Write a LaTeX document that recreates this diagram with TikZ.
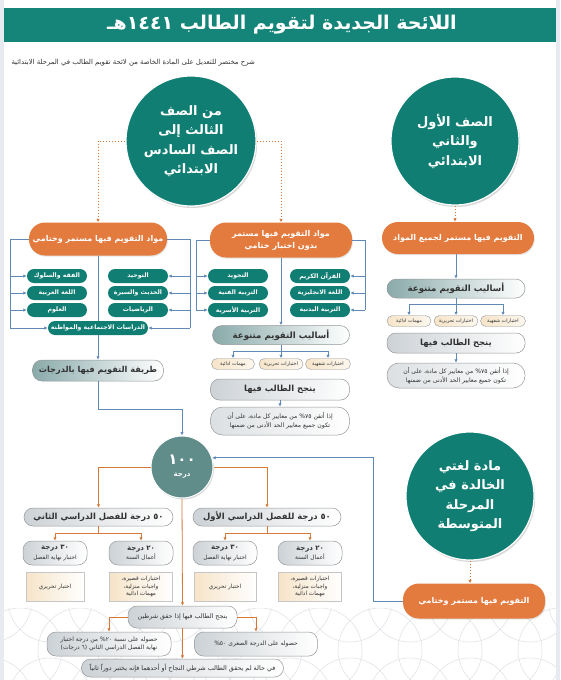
\documentclass[tikz,border=0pt]{standalone}
\usepackage{fontspec}
\newfontfamily\arabicfont[Script=Arabic]{DejaVu Sans}
\TeXXeTstate=1
\usetikzlibrary{arrows.meta,shadows}
\newcommand{\artxt}[1]{\beginR #1\endR}
\definecolor{tealH}{RGB}{20,133,120}
\definecolor{tealC}{RGB}{16,126,115}
\definecolor{orangeC}{RGB}{227,122,62}
\definecolor{blueL}{RGB}{96,137,182}
\definecolor{orangeL}{RGB}{214,121,56}
\definecolor{grayB}{RGB}{150,152,155}
\definecolor{gtealL}{RGB}{138,170,170}
\definecolor{grayF}{RGB}{205,210,214}
\definecolor{beige}{RGB}{246,228,200}
\definecolor{textD}{RGB}{50,50,50}
\definecolor{circH}{RGB}{96,140,138}
\definecolor{pagebg}{RGB}{232,234,242}
\definecolor{patC}{RGB}{226,228,232}
\begin{document}
\begin{tikzpicture}[x=1pt,y=-1pt,
  tcirc/.style={circle, fill=tealC, draw=white, line width=1.2pt, text=white, align=center, inner sep=0pt,
    font=\arabicfont\bfseries\fontsize{13}{19.5}\selectfont,
    drop shadow={opacity=0.3,shadow xshift=1.2pt,shadow yshift=-2pt}},
  opill/.style={rectangle, rounded corners=16pt, fill=orangeC, text=white, align=center, inner sep=0pt,
    font=\arabicfont\bfseries\fontsize{8}{12}\selectfont,
    drop shadow={opacity=0.2,shadow xshift=0.8pt,shadow yshift=-1.2pt}},
  gbox/.style={rectangle, rounded corners=7pt, fill=tealC, text=white, inner sep=0pt, minimum width=60pt, minimum height=14pt,
    font=\arabicfont\bfseries\fontsize{6.2}{7}\selectfont},
  dpill/.style={rectangle, rounded corners=9.5pt, draw=grayB, line width=0.5pt, left color=gtealL, right color=white, text=textD,
    inner sep=0pt, font=\arabicfont\bfseries\fontsize{8.6}{10}\selectfont},
  lpill/.style={rectangle, rounded corners=9pt, draw=grayB, line width=0.5pt, left color=grayF, right color=white, text=textD,
    inner sep=0pt, align=center, font=\arabicfont\bfseries\fontsize{8.4}{10}\selectfont},
  subbox/.style={rectangle, rounded corners=5.5pt, draw=grayB, line width=0.4pt, left color=beige, right color=beige!30, text=textD,
    inner sep=0pt, minimum height=11pt, font=\arabicfont\fontsize{4.9}{5.5}\selectfont},
  notebox/.style={rectangle, rounded corners=12pt, draw=grayB, line width=0.5pt, left color=grayF!70, right color=white, text=textD,
    inner sep=0pt, align=center, font=\arabicfont\fontsize{6.1}{9}\selectfont},
  smallpill/.style={lpill, font=\arabicfont\fontsize{6}{8.5}\selectfont},
  scpill/.style={rectangle, rounded corners=9pt, draw=grayB, line width=0.5pt, left color=grayF, right color=white,
    text=textD, inner sep=0pt, align=center, minimum width=64pt, minimum height=24pt,
    font=\arabicfont\fontsize{5.8}{9.5}\selectfont},
  beigebox/.style={rectangle, draw=gray!45, line width=0.4pt, left color=beige, right color=white, text=textD,
    inner sep=0pt, align=center, minimum height=29pt, font=\arabicfont\fontsize{5.7}{7.5}\selectfont},
  bline/.style={draw=blueL, line width=0.8pt},
  barrow/.style={bline, -{Latex[length=3.5pt,width=3.5pt]}},
  oline/.style={draw=orangeL, line width=0.8pt},
  oarrow/.style={oline, -{Latex[length=3.5pt,width=3.5pt]}},
  dotarrow/.style={draw=orangeL, line width=1pt, dotted, -{Latex[length=3.5pt,width=3.5pt]}},
  patc/.style={draw=patC, line width=0.6pt}
]
\useasboundingbox (0,0) rectangle (560,680);
\fill[pagebg] (0,0) rectangle (560,680);
\fill[white] (4,0) rectangle (556,680);
\begin{scope}
  \clip (4,608) rectangle (556,680);
  \foreach \i in {-1,...,10} {
    \draw[patc] (\i*60+20,650) circle [radius=42pt];
    \draw[patc] (\i*60+50,700) circle [radius=42pt];
    \draw[patc] (\i*60+50,600) circle [radius=42pt];
  }
\end{scope}

% header
\fill[tealH] (4,8) rectangle (556,42);
\node[font=\arabicfont\bfseries\fontsize{19}{24}\selectfont, text=white] (title) at (282,25)
  {\artxt{اللائحة الجديدة لتقويم الطالب ١٤٤١هـ}};
\node[anchor=west, font=\arabicfont\fontsize{6.9}{8}\selectfont, text=textD] (subtitle) at (8,63)
  {\artxt{شرح مختصر للتعديل على المادة الخاصة من لائحة تقويم الطالب في المرحلة الابتدائية}};

% top circles
\node[tcirc, minimum size=130pt] (cA) at (191,141)
  {\artxt{من الصف}\\\artxt{الثالث إلى}\\\artxt{الصف السادس}\\\artxt{الابتدائي}};
\node[tcirc, minimum size=128pt] (cB) at (455,141)
  {\artxt{الصف الأول}\\\artxt{والثاني}\\\artxt{الابتدائي}};

% orange pills
\node[opill, minimum width=138pt, minimum height=33pt] (pL) at (98,239) {\artxt{مواد التقويم فيها مستمر وختامي}};
\node[opill, minimum width=142pt, minimum height=35pt] (pM) at (281,240) {\artxt{مواد التقويم فيها مستمر}\\\artxt{بدون اختبار ختامي}};
\node[opill, minimum width=152pt, minimum height=32pt] (pR) at (458,238) {\artxt{التقويم فيها مستمر لجميع المواد}};

\draw[dotarrow] (cA.west) -| (pL.north);
\draw[dotarrow] (cA.east) -| (pM.north);
\draw[dotarrow] (cB.south) -- (cB.south |- pR.north);

% left grid
\node[gbox] (L11) at (138,276) {\artxt{التوحيد}};
\node[gbox] (L21) at (138,293) {\artxt{الحديث والسيرة}};
\node[gbox] (L31) at (138,310) {\artxt{الرياضيات}};
\node[gbox] (L12) at (57,276) {\artxt{الفقه والسلوك}};
\node[gbox] (L22) at (57,293) {\artxt{اللغة العربية}};
\node[gbox] (L32) at (57,310) {\artxt{العلوم}};
\node[gbox, minimum width=100pt] (Lsoc) at (98,328) {\artxt{الدراسات الاجتماعية والمواطنة}};
\coordinate (LbL) at (10,239);
\coordinate (LbR) at (190,239);
\draw[bline] (pL.west) -- (LbL) -- (LbL |- Lsoc);
\draw[bline] (pL.east) -- (LbR) -- (LbR |- Lsoc);
\foreach \n in {L12,L22,L32,Lsoc} \draw[barrow] (LbL |- \n) -- (\n.west);
\foreach \n in {L11,L21,L31,Lsoc} \draw[barrow] (LbR |- \n) -- (\n.east);
\draw[bline] (pL.south) -- (Lsoc.north);

\node[dpill, minimum width=131pt, minimum height=21pt, font=\arabicfont\bfseries\fontsize{8.2}{10}\selectfont] (method) at (98,370.5) {\artxt{طريقة التقويم فيها بالدرجات}};
\draw[barrow] (Lsoc.south) -- (method.north);

% middle grid
\node[gbox] (M11) at (320,276) {\artxt{القرآن الكريم}};
\node[gbox] (M21) at (320,293) {\artxt{اللغة الانجليزية}};
\node[gbox] (M31) at (320,310) {\artxt{التربية البدنية}};
\node[gbox] (M12) at (238,276) {\artxt{التجويد}};
\node[gbox] (M22) at (238,293) {\artxt{التربية الفنية}};
\node[gbox] (M32) at (238,310) {\artxt{التربية الأسرية}};
\coordinate (MbL) at (196,240);
\coordinate (MbR) at (365,240);
\draw[bline] (pM.west) -- (MbL) -- (MbL |- M32);
\draw[bline] (pM.east) -- (MbR) -- (MbR |- M31);
\foreach \n in {M12,M22,M32} \draw[barrow] (MbL |- \n) -- (\n.west);
\foreach \n in {M11,M21,M31} \draw[barrow] (MbR |- \n) -- (\n.east);

\node[dpill, minimum width=137pt, minimum height=19pt] (aM) at (281,335) {\artxt{أساليب التقويم متنوعة}};
\draw[barrow] (pM.south) -- (aM.north);
\node[subbox, minimum width=43pt] (sM1) at (233,364) {\artxt{مهمات ادائية}};
\node[subbox, minimum width=44pt] (sM2) at (281,364) {\artxt{اختبارات تحريرية}};
\node[subbox, minimum width=45pt] (sM3) at (328,364) {\artxt{اختبارات شفهية}};
\coordinate (aMb) at (281,351);
\draw[bline] (aM.south) -- (aMb);
\draw[bline] (sM1 |- aMb) -- (sM3 |- aMb);
\foreach \n in {sM1,sM2,sM3} \draw[barrow] (\n |- aMb) -- (\n.north);
\node[lpill, minimum width=139pt, minimum height=21pt] (nM) at (280,389.5) {\artxt{ينجح الطالب فيها}};
\node[notebox, minimum width=139pt, minimum height=28pt] (tM) at (280,421)
  {\artxt{إذا أتقن ٧٥\% من معايير كل مادة، على أن}\\\artxt{تكون جميع معايير الحد الأدنى من ضمنها}};
\draw[barrow] (nM.south) -- (tM.north);

% right column
\node[dpill, minimum width=138pt, minimum height=19pt] (aR) at (456,288.5) {\artxt{أساليب التقويم متنوعة}};
\draw[barrow] (aR.north |- pR.south) -- (aR.north);
\node[subbox, minimum width=44pt] (sR1) at (409,321) {\artxt{مهمات ادائية}};
\node[subbox, minimum width=44pt] (sR2) at (456,321) {\artxt{اختبارات تحريرية}};
\node[subbox, minimum width=45pt] (sR3) at (503,321) {\artxt{اختبارات شفهية}};
\coordinate (aRb) at (456,304);
\draw[bline] (aR.south) -- (aRb);
\draw[bline] (sR1 |- aRb) -- (sR3 |- aRb);
\foreach \n in {sR1,sR2,sR3} \draw[barrow] (\n |- aRb) -- (\n.north);
\node[lpill, minimum width=138pt, minimum height=20pt] (nR) at (456,343) {\artxt{ينجح الطالب فيها}};
\node[notebox, minimum width=138pt, minimum height=25pt] (tR) at (456,375.5)
  {\artxt{إذا أتقن ٧٥\% من معايير كل مادة، على أن}\\\artxt{تكون جميع معايير الحد الأدنى من ضمنها}};
\draw[barrow] (nR.south) -- (tR.north);

% 100 circle
\node[circle, fill=circH, draw=white, line width=1pt, minimum size=62pt, inner sep=0pt, text=white, align=center,
  font=\arabicfont\bfseries, drop shadow={opacity=0.3,shadow xshift=1pt,shadow yshift=-1.5pt}] (c100) at (182,467)
  {{\fontsize{15}{17}\selectfont\artxt{١٠٠}}\\{\fontsize{7}{10}\selectfont\artxt{درجة}}};
\coordinate (mc1) at (98,409);
\coordinate (mc2) at (182,409);
\draw[barrow] (method.south) -- (mc1) -- (mc2) -- (c100.north);

% semesters
\node[lpill, minimum width=149pt, minimum height=18pt] (sem2) at (98.5,517) {\artxt{٥٠ درجة للفصل الدراسي الثاني}};
\node[lpill, minimum width=148pt, minimum height=18pt] (sem1) at (267,517) {\artxt{٥٠ درجة للفصل الدراسي الأول}};
\draw[oarrow] (c100.west) -| (sem2.north);
\draw[oarrow] (c100.east) -| (sem1.north);

\node[scpill] (s30b) at (55,553) {{\bfseries\fontsize{7}{9.5}\selectfont\artxt{٣٠ درجة}}\\\artxt{اختبار نهاية الفصل}};
\node[scpill] (s20b) at (141,553) {{\bfseries\fontsize{7}{9.5}\selectfont\artxt{٢٠ درجة}}\\\artxt{أعمال السنة}};
\node[scpill] (s30a) at (225,553) {{\bfseries\fontsize{7}{9.5}\selectfont\artxt{٣٠ درجة}}\\\artxt{اختبار نهاية الفصل}};
\node[scpill] (s20a) at (310,553) {{\bfseries\fontsize{7}{9.5}\selectfont\artxt{٢٠ درجة}}\\\artxt{أعمال السنة}};
\coordinate (b2) at (98.5,533);
\coordinate (b1) at (267,533);
\draw[oline] (sem2.south) -- (b2);
\draw[oline] (s30b |- b2) -- (s20b |- b2);
\draw[oline] (sem1.south) -- (b1);
\draw[oline] (s30a |- b1) -- (s20a |- b1);
\foreach \n in {s30b,s20b} \draw[oarrow] (\n |- b2) -- (\n.north);
\foreach \n in {s30a,s20a} \draw[oarrow] (\n |- b1) -- (\n.north);

\node[beigebox, minimum width=58pt] (x30b) at (55,587) {\artxt{اختبار تحريري}};
\node[beigebox, minimum width=63pt] (x20b) at (141,587) {\artxt{اختبارات قصيرة،}\\\artxt{واجبات منزلية،}\\\artxt{مهمات ادائية}};
\node[beigebox, minimum width=62pt] (x30a) at (225,587) {\artxt{اختبار تحريري}};
\node[beigebox, minimum width=63pt] (x20a) at (310,587) {\artxt{اختبارات قصيرة،}\\\artxt{واجبات منزلية،}\\\artxt{مهمات ادائية}};

% pass conditions
\node[smallpill, minimum width=109pt, minimum height=22pt, font=\arabicfont\fontsize{6.3}{8.5}\selectfont] (pass2) at (182.5,617) {\artxt{ينجح الطالب فيها إذا حقق شرطين}};
\draw[oarrow] (c100.south) -- (pass2.north);
\node[smallpill, minimum width=124pt, minimum height=24pt] (condL) at (109,644)
  {\artxt{حصوله على نسبة ٢٠\% من درجة اختبار}\\\artxt{نهاية الفصل الدراسي الثاني (٦ درجات)}};
\node[smallpill, minimum width=123pt, minimum height=24pt] (condR) at (256,644) {\artxt{حصوله على الدرجة الصغرى ٥٠\%}};
\node[smallpill, minimum width=202pt, minimum height=18pt, font=\arabicfont\fontsize{6.4}{8.5}\selectfont] (fail) at (182.5,668)
  {\artxt{في حالة لم يحقق الطالب شرطي النجاح أو أحدهما فإنه يختبر دوراً ثانياً}};
\draw[oarrow] (pass2.west) -| (condL.north);
\draw[oarrow] (pass2.east) -| (condR.north);
\draw[oarrow] (pass2.south) -- (fail.north);

% lughati
\node[tcirc, minimum size=128pt] (cC) at (470,496)
  {\artxt{مادة لغتي}\\\artxt{الخالدة في}\\\artxt{المرحلة}\\\artxt{المتوسطة}};
\node[opill, minimum width=142pt, minimum height=35pt] (pC) at (474,601) {\artxt{التقويم فيها مستمر وختامي}};
\draw[dotarrow] (cC.south) -- (cC.south |- pC.north);
\coordinate (bc) at (373,0);
\draw[barrow] (pC.west) -| (bc |- c100.17) -- (c100.17);
\end{tikzpicture}
\end{document}
